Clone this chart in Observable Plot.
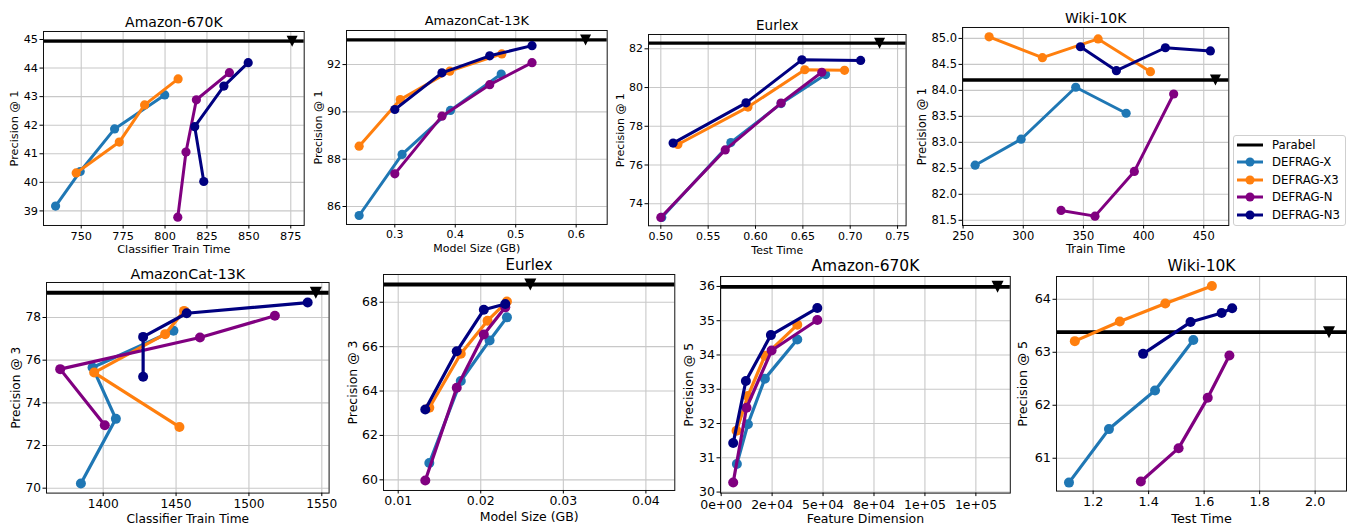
<!DOCTYPE html>
<html><head><meta charset="utf-8">
<script src="https://cdn.jsdelivr.net/npm/d3@7"></script>
<script src="https://cdn.jsdelivr.net/npm/@observablehq/plot@0.6"></script>
<style>
body{margin:0;background:#fff;font-family:"DejaVu Sans",sans-serif;}
#root{position:relative;width:1354px;height:527px;overflow:hidden;background:#fff;}
#legend{position:absolute;left:1233px;top:135px;width:111px;height:89px;border:1px solid #cfcfcf;border-radius:3px;background:#fff;}
.lrow{position:absolute;left:0;height:16px;display:flex;align-items:center;font-size:11.7px;color:#000;white-space:nowrap;}
.lrow svg{margin-left:3px;margin-right:9px;}
</style></head><body><div id="root"><div id="legend"></div></div>
<script>
// ---------- series ----------
const series = ["DEFRAG-X", "DEFRAG-X3", "DEFRAG-N", "DEFRAG-N3"];
const baseline = "Parabel";
const colors = ["#1f77b4", "#ff7f0e", "#800080", "#000080"];

// ---------- Panel 1: Amazon-670K, Classifier Train Time vs Precision@1 ----------
const a670_trainTime = [[734.7,749.4,769.9,799.8],[747.0,772.7,787.8,807.8],[807.6,812.5,818.7,838.4],[823.1,817.7,835.1,849.6]];
const a670_p1 = [[39.17,40.38,41.87,43.06],[40.33,41.41,42.71,43.62],[38.78,41.06,42.89,43.84],[40.03,41.95,43.37,44.19]];
const a670_p1_parabel = [875.8, 44.94];
const a670_trainTime_ticks = [750,775,800,825,850,875];
const a670_p1_ticks = [39,40,41,42,43,44,45];

// ---------- Panel 2: AmazonCat-13K, Model Size vs Precision@1 ----------
const acat_modelSize = [[0.241,0.312,0.392,0.476],[0.241,0.309,0.391,0.477],[0.300,0.378,0.457,0.527],[0.300,0.378,0.457,0.527]];
const acat_p1 = [[85.62,88.20,90.06,91.60],[88.55,90.52,91.72,92.45],[87.38,89.82,91.15,92.08],[90.10,91.65,92.37,92.80]];
const acat_p1_parabel = [0.6155, 93.04];
const acat_modelSize_ticks = [0.3,0.4,0.5,0.6];
const acat_p1_ticks = [86,88,90,92];

// ---------- Panel 3: Eurlex, Test Time vs Precision@1 ----------
const eur_testTime = [[0.501,0.574,0.627,0.674],[0.518,0.592,0.652,0.694],[0.500,0.568,0.627,0.670],[0.513,0.590,0.649,0.711]];
const eur_p1 = [[73.29,77.16,79.17,80.67],[77.06,78.99,80.92,80.89],[73.29,76.78,79.20,80.79],[77.13,79.21,81.43,81.40]];
const eur_p1_parabel = [0.731, 82.29];
const eur_testTime_ticks = [0.50,0.55,0.60,0.65,0.70,0.75];
const eur_p1_ticks = [74,76,78,80,82];

// ---------- Panel 4: Wiki-10K, Train Time vs Precision@1 ----------
const wiki_trainTime = [[260.0,298.2,343.6,385.5],[271.6,315.9,362.2,405.7],[331.4,359.6,392.3,425.0],[347.5,377.4,418.1,455.5]];
const wiki_p1 = [[82.56,83.06,84.06,83.56],[85.03,84.63,84.99,84.36],[81.69,81.58,82.44,83.93],[84.84,84.38,84.82,84.76]];
const wiki_p1_parabel = [459.7, 84.20];
const wiki_trainTime_ticks = [250,300,350,400,450];
const wiki_p1_ticks = [81.5,82.0,82.5,83.0,83.5,84.0,84.5,85.0];

// ---------- Panel 5: AmazonCat-13K, Classifier Train Time vs Precision@3 ----------
const acat_trainTime = [[1384.7,1408.7,1392.7,1448.2],[1452.3,1393.8,1442.5,1455.5],[1401.1,1370.5,1466.4,1517.8],[1427.4,1427.4,1457.3,1540.3]];
const acat_p3 = [[70.22,73.25,75.66,77.38],[72.87,75.42,77.22,78.31],[72.95,75.58,77.06,78.08],[75.22,77.09,78.20,78.70]];
const acat_p3_parabel = [1545.9, 79.16];
const acat_trainTime_ticks = [1400,1450,1500,1550];
const acat_p3_ticks = [70,72,74,76,78];

// ---------- Panel 6: Eurlex, Model Size vs Precision@3 ----------
const eur_modelSize = [[0.01377,0.01758,0.02107,0.02317],[0.01377,0.01758,0.02082,0.02317],[0.01328,0.01709,0.02037,0.02297],[0.01328,0.01709,0.02037,0.02297]];
const eur_p3 = [[60.76,64.45,66.28,67.32],[63.25,65.68,67.17,68.03],[59.97,64.15,66.55,67.77],[63.17,65.79,67.66,67.92]];
const eur_p3_parabel = [0.0260, 68.80];
const eur_modelSize_ticks = [0.01,0.02,0.03,0.04];
const eur_p3_ticks = [60,62,64,66,68];

// ---------- Panel 7: Amazon-670K, Feature Dimension vs Precision@5 ----------
const a670_featDim = [[7700,13100,21460,37350],[7540,13100,21460,37350],[5900,12450,24740,47180],[5900,12120,24410,47180]];
const a670_p5 = [[30.82,31.98,33.31,34.45],[31.79,32.80,33.98,34.88],[30.28,32.46,34.13,35.02],[31.43,33.24,34.58,35.37]];
const a670_p5_parabel = [135650, 35.99];
const a670_featDim_ticks = [0,25000,50000,75000,100000,125000];
const a670_featDim_labels = ["0e+00","2e+04","5e+04","8e+04","1e+05","1e+05"];
const a670_p5_ticks = [30,31,32,33,34,35,36];

// ---------- Panel 8: Wiki-10K, Test Time vs Precision@5 ----------
const wiki_testTime = [[1.113,1.257,1.423,1.561],[1.134,1.296,1.460,1.628],[1.372,1.508,1.613,1.691],[1.380,1.551,1.663,1.701]];
const wiki_p5 = [[60.54,61.55,62.28,63.23],[63.21,63.58,63.92,64.25],[60.56,61.19,62.14,62.94],[62.97,63.57,63.74,63.83]];
const wiki_p5_parabel = [2.05, 63.38];
const wiki_testTime_ticks = [1.2,1.4,1.6,1.8,2.0];
const wiki_p5_ticks = [61,62,63,64];

// ---------- drawing ----------
const root = document.getElementById("root");
const triangleDown = {draw(ctx, size) {
  const s = Math.sqrt(size / Math.PI);
  ctx.moveTo(-s, -s); ctx.lineTo(s, -s); ctx.lineTo(0, s); ctx.closePath();
}};

function panel(c) {
  const M = {l: 70, r: 14, t: 30, b: 42};
  const w = c.box[2] - c.box[0], h = c.box[3] - c.box[1];
  const marks = [
    Plot.gridX(c.xTicks, {stroke: "#c8c8c8", strokeOpacity: 1, strokeWidth: 1.1}),
    Plot.gridY(c.yTicks, {stroke: "#c8c8c8", strokeOpacity: 1, strokeWidth: 1.1}),
    Plot.ruleY([c.parabel[1]], {stroke: "#000", strokeWidth: c.pw}),
    Plot.dot([c.parabel], {x: d => d[0], y: d => d[1], r: c.tr, symbol: triangleDown, fill: "#000", stroke: "none"})
  ];
  series.forEach((s, i) => {
    const rows = c.xs[i].map((x, j) => ({x, y: c.ys[i][j]}));
    marks.push(Plot.line(rows, {x: "x", y: "y", stroke: colors[i], strokeWidth: c.lw}));
    marks.push(Plot.dot(rows, {x: "x", y: "y", r: c.r, fill: colors[i], stroke: "none"}));
  });
  marks.push(Plot.frame({stroke: "#111", strokeWidth: 1}));
  marks.push(Plot.axisX(c.xTicks, {tickFormat: c.xFmt, tickSize: 3.5, tickPadding: c.xpad ?? 2.5, fontSize: c.fs, label: null, fill: "#000", stroke: "#000"}));
  marks.push(Plot.axisY(c.yTicks, {tickFormat: c.yFmt, tickSize: 3.5, tickPadding: 2, fontSize: c.fs, label: null, fill: "#000", stroke: "#000"}));
  marks.push(Plot.text([c.title], {frameAnchor: "top", lineAnchor: "middle", textAnchor: "middle", dy: c.tdy, fontSize: c.tfs, fill: "#000"}));
  marks.push(Plot.text([c.xLabel], {frameAnchor: "bottom", lineAnchor: "middle", textAnchor: "middle", dy: c.xdy, fontSize: c.fs, fill: "#000"}));
  marks.push(Plot.text([c.yLabel], {frameAnchor: "left", lineAnchor: "middle", textAnchor: "middle", dx: -c.ydx, rotate: -90, fontSize: c.fs, fill: "#000"}));
  const svg = Plot.plot({
    width: w + M.l + M.r, height: h + M.t + M.b,
    marginLeft: M.l, marginRight: M.r, marginTop: M.t, marginBottom: M.b,
    x: {domain: c.xDomain, axis: null}, y: {domain: c.yDomain, axis: null},
    style: {fontFamily: "DejaVu Sans", color: "#000", background: "transparent", overflow: "visible", maxWidth: "none"},
    marks
  });
  svg.style.position = "absolute";
  svg.style.left = (c.box[0] - M.l) + "px";
  svg.style.top = (c.box[1] - M.t) + "px";
  root.appendChild(svg);
}

const topStyle = {lw: 3, r: 4.6, pw: 3.3, tr: 5.5};
const botStyle = {lw: 3.2, r: 5, pw: 3.8, tr: 6};

panel({...topStyle, box: [43.3, 31, 304, 225], xDomain: [727.5, 883], yDomain: [38.49, 45.28],
  xs: a670_trainTime, ys: a670_p1, parabel: a670_p1_parabel, xTicks: a670_trainTime_ticks, yTicks: a670_p1_ticks,
  xFmt: d3.format("d"), yFmt: d3.format("d"), title: "Amazon-670K", xLabel: "Classifier Train Time", yLabel: "Precision @ 1",
  fs: 11.3, tfs: 14, tdy: -9.3, xdy: 24, ydx: 29.3});
panel({...topStyle, box: [346, 30, 606.7, 224], xDomain: [0.2201, 0.6513], yDomain: [85.24, 93.44],
  xs: acat_modelSize, ys: acat_p1, parabel: acat_p1_parabel, xTicks: acat_modelSize_ticks, yTicks: acat_p1_ticks,
  xFmt: d3.format(".1f"), yFmt: d3.format("d"), title: "AmazonCat-13K", xLabel: "Model Size (GB)", yLabel: "Precision @ 1",
  fs: 11, tfs: 13, tdy: -9.3, xdy: 24, ydx: 28});
panel({...topStyle, box: [647.7, 34, 905.3, 225.3], xDomain: [0.487, 0.759], yDomain: [72.86, 82.74],
  xs: eur_testTime, ys: eur_p1, parabel: eur_p1_parabel, xTicks: eur_testTime_ticks, yTicks: eur_p1_ticks,
  xFmt: d3.format(".2f"), yFmt: d3.format("d"), title: "Eurlex", xLabel: "Test Time", yLabel: "Precision @ 1",
  fs: 11, tfs: 13.5, tdy: -9, xdy: 24.7, ydx: 27.7});
panel({...topStyle, box: [962, 27.3, 1228.3, 225.3], xDomain: [249.5, 470.8], yDomain: [81.40, 85.21],
  xs: wiki_trainTime, ys: wiki_p1, parabel: wiki_p1_parabel, xTicks: wiki_trainTime_ticks, yTicks: wiki_p1_ticks,
  xFmt: d3.format("d"), yFmt: d3.format(".1f"), title: "Wiki-10K", xLabel: "Train Time", yLabel: "Precision @ 1",
  fs: 11.5, tfs: 14, tdy: -9, xdy: 23.7, ydx: 40.3});
panel({...botStyle, box: [45.7, 281.7, 328.3, 492.3], xDomain: [1361.1, 1555], yDomain: [69.77, 79.64],
  xs: acat_trainTime, ys: acat_p3, parabel: acat_p3_parabel, xTicks: acat_trainTime_ticks, yTicks: acat_p3_ticks,
  xFmt: d3.format("d"), yFmt: d3.format("d"), title: "AmazonCat-13K", xLabel: "Classifier Train Time", yLabel: "Precision @ 3",
  fs: 12.2, tfs: 14.3, tdy: -8.4, xdy: 25.7, ydx: 30.7});
panel({...botStyle, box: [382.7, 274, 674, 490], xDomain: [0.00822, 0.0435], yDomain: [59.52, 69.25],
  xs: eur_modelSize, ys: eur_p3, parabel: eur_p3_parabel, xTicks: eur_modelSize_ticks, yTicks: eur_p3_ticks,
  xFmt: d3.format(".2f"), yFmt: d3.format("d"), title: "Eurlex", xLabel: "Model Size (GB)", yLabel: "Precision @ 3",
  fs: 12.5, tfs: 15, tdy: -9.7, xdy: 27, ydx: 31});
panel({...botStyle, box: [719.5, 275.7, 1009.3, 492.3], xDomain: [-330, 141900], yDomain: [29.97, 36.29],
  xs: a670_featDim, ys: a670_p5, parabel: a670_p5_parabel, xTicks: a670_featDim_ticks, yTicks: a670_p5_ticks,
  xFmt: (d, i) => a670_featDim_labels[i], yFmt: d3.format("d"), title: "Amazon-670K", xLabel: "Feature Dimension", yLabel: "Precision @ 5",
  fs: 12.5, xpad: 3.5, tfs: 15.5, tdy: -10, xdy: 26.2, ydx: 31.7});
panel({...botStyle, box: [1055.7, 275.7, 1345.7, 490.3], xDomain: [1.068, 2.113], yDomain: [60.38, 64.43],
  xs: wiki_testTime, ys: wiki_p5, parabel: wiki_p5_parabel, xTicks: wiki_testTime_ticks, yTicks: wiki_p5_ticks,
  xFmt: d3.format(".1f"), yFmt: d3.format("d"), title: "Wiki-10K", xLabel: "Test Time", yLabel: "Precision @ 5",
  fs: 12.8, tfs: 15.5, tdy: -10, xdy: 27.7, ydx: 33.4});

// ---------- legend ----------
const legend = document.getElementById("legend");
const entries = [{name: baseline, color: "#000", marker: false}].concat(series.map((s, i) => ({name: s, color: colors[i], marker: true})));
entries.forEach((e, i) => {
  const row = document.createElement("div");
  row.className = "lrow";
  row.style.top = (0.5 + i * 17.6) + "px";
  row.innerHTML = `<svg width="26" height="12"><line x1="0" x2="26" y1="6" y2="6" stroke="${e.color}" stroke-width="3"/>` +
    (e.marker ? `<circle cx="13" cy="6" r="4.5" fill="${e.color}"/>` : "") + `</svg><span>${e.name}</span>`;
  legend.appendChild(row);
});
</script></body></html>
